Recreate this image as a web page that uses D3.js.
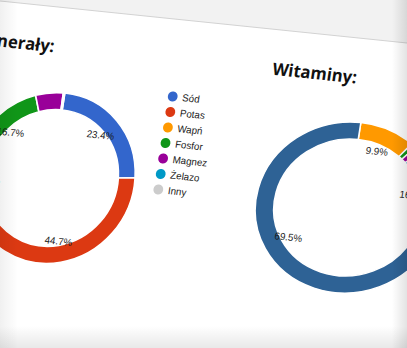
<!DOCTYPE html>
<html><head><meta charset="utf-8">
<script src="https://cdn.jsdelivr.net/npm/d3@7"></script>
<style>html,body{margin:0;padding:0;background:#fff;overflow:hidden}</style>
</head><body>
<svg id="c" width="407" height="348"></svg>
<script>
// ---- data ----
const mineralCategories = ["Sód", "Potas", "Wapń", "Fosfor", "Magnez", "Żelazo", "Inny"];
const mineralValues = [23.4, 44.7, 9.6, 16.7, 5.3, 0.2, 0.1];
const mineralColors = ["#3366cc", "#dc3912", "#ff9900", "#109618", "#990099", "#0099c6", "#cccccc"];

const vitaminCategories = ["Witamina C", "Witamina E", "Witamina B1", "Witamina B2", "Witamina B6", "Witamina PP", "Witamina A"];
const vitaminValues = [9.9, 0.9, 1.1, 16.4, 1.3, 0.9, 69.5];
const vitaminColors = ["#ff9900", "#109618", "#990099", "#0099c6", "#dd4477", "#cccccc", "#2e6295"];

const titles = ["Minerały:", "Witaminy:"];

// ---- drawing ----
const svg = d3.select("#c");
const defs = svg.append("defs");
svg.append("rect").attr("width", 407).attr("height", 348).attr("fill", "#ffffff");

// page tilted as in the photo
const page = svg.append("g").attr("transform", "matrix(0.97,0.1,-0.155,1,33.1,-20)");
page.append("rect").attr("x", -200).attr("y", -200).attr("width", 900).attr("height", 224).attr("fill", "#f2f2f2");
page.append("line").attr("x1", -200).attr("x2", 700).attr("y1", 24).attr("y2", 24)
  .attr("stroke", "#d2d2d2").attr("stroke-width", 1);

const R = 85, hole = 0.8, labelR = 0.75 * R;
const pct = d3.format(".1%");

function donut(cx, cy, sx, lr, values, colors) {
  const total = d3.sum(values);
  const pie = d3.pie().sort(null).value(d => d)(values);
  const arc = d3.arc().innerRadius(R * hole).outerRadius(R);
  const larc = d3.arc().innerRadius(lr).outerRadius(lr);
  const g = page.append("g").attr("transform", `translate(${cx},${cy})`);
  g.append("g").attr("transform", `scale(${sx},1)`)
    .selectAll("path").data(pie).join("path")
    .attr("d", arc).attr("fill", (d, i) => colors[i])
    .attr("stroke", "#fff").attr("stroke-width", 1.6 / sx);
  g.selectAll("text").data(pie.filter(d => d.value / total >= 0.08)).join("text")
    .attr("x", d => larc.centroid(d)[0] * sx)
    .attr("y", d => larc.centroid(d)[1])
    .attr("dy", "0.35em").attr("text-anchor", "middle")
    .attr("font-family", "Arial, 'Liberation Sans', sans-serif").attr("font-size", 10)
    .attr("fill", "#1a1a1a")
    .text(d => pct(d.value / total));
}

donut(50, 193, 1, labelR, mineralValues, mineralColors);
donut(355, 192, 1.11, 0.72 * R, vitaminValues, vitaminColors);

// titles
page.append("text").attr("x", 32).attr("y", 69).attr("text-anchor", "end")
  .attr("font-family", "'Open Sans', sans-serif").attr("font-weight", 700).attr("font-size", 17)
  .attr("fill", "#111").text(titles[0]);
page.append("text").attr("x", 257).attr("y", 69)
  .attr("font-family", "'Open Sans', sans-serif").attr("font-weight", 700).attr("font-size", 17)
  .attr("fill", "#111").text(titles[1]);

// legend for minerals
const legendY = d3.scalePoint().domain(mineralCategories).range([100.5, 193.5]);
const leg = page.append("g").selectAll("g").data(mineralCategories).join("g")
  .attr("transform", d => `translate(160,${legendY(d)})`);
leg.append("circle").attr("r", 5).attr("fill", (d, i) => mineralColors[i]);
leg.append("text").attr("x", 10).attr("dy", "0.35em")
  .attr("font-family", "Arial, 'Liberation Sans', sans-serif").attr("font-size", 10)
  .attr("fill", "#222").text(d => d);

// photo edge shading
function edge(id, x1, y1, x2, y2, rx, ry, w, h, c0, c1) {
  const lg = defs.append("linearGradient").attr("id", id)
    .attr("x1", x1).attr("y1", y1).attr("x2", x2).attr("y2", y2);
  lg.append("stop").attr("offset", 0).attr("stop-color", c0);
  lg.append("stop").attr("offset", 1).attr("stop-color", c1);
  svg.append("rect").attr("x", rx).attr("y", ry).attr("width", w).attr("height", h).attr("fill", `url(#${id})`);
}
edge("gl", 0, 0, 1, 0, 0, 0, 18, 348, "rgba(0,0,0,0.06)", "rgba(0,0,0,0)");
edge("gr", 0, 0, 1, 0, 392, 0, 15, 348, "rgba(0,0,0,0)", "rgba(0,0,0,0.11)");
edge("gb", 0, 0, 0, 1, 0, 326, 407, 22, "rgba(0,0,0,0)", "rgba(0,0,0,0.09)");
</script>
</body></html>
